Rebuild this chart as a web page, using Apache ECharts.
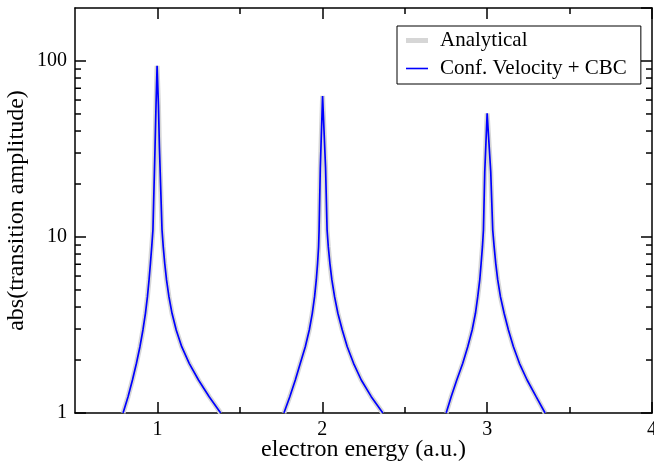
<!DOCTYPE html>
<html>
<head>
<meta charset="utf-8">
<script src="https://cdn.jsdelivr.net/npm/echarts@6/dist/echarts.min.js"></script>
<style>
html,body{margin:0;padding:0;background:#fff;}
#chart{width:654px;height:461px;}
</style>
</head>
<body>
<div id="chart"></div>
<script>
// ---- data ----
const energy = [
  0.7915, 0.8218, 0.8485, 0.8727, 0.8939, 0.9121, 0.9273, 0.9394, 0.9491, 0.9576, 0.9655, 0.9727, 0.9855, 0.9915, 0.998,
  1.0061, 1.0121, 1.0279, 1.0352, 1.0442, 1.0552, 1.0697, 1.0885, 1.1139, 1.1473, 1.1927, 1.2491, 1.3139, 1.3836,
  1.55,
  1.7673, 1.8030, 1.8364, 1.8667, 1.8970, 1.9212, 1.9394, 1.9533, 1.9636, 1.9715, 1.9776, 1.9806, 1.9879, 2.0018,
  2.0200, 2.0291, 2.0364, 2.0461, 2.0582, 2.0745, 2.0945, 2.1212, 2.1515, 2.1897, 2.2364, 2.2970, 2.3673,
  2.55,
  2.7515, 2.7818, 2.8158, 2.8521, 2.8824, 2.9091, 2.9291, 2.9430, 2.9552, 2.9636, 2.9715, 2.9776, 2.9855, 3.0,
  3.0218, 3.0339, 3.0424, 3.0521, 3.0642, 3.0806, 3.1030, 3.1291, 3.1594, 3.1958, 3.2424, 3.2970, 3.3515
];
const amplitudeAnalytical = [
  1, 1.238, 1.54, 1.916, 2.38, 2.962, 3.686, 4.58, 5.70, 7.09, 8.81, 10.96, 32.3, 56.2, 94,
  56.2, 32.3, 10.96, 8.81, 7.09, 5.70, 4.58, 3.686, 2.962, 2.38, 1.916, 1.54, 1.238, 1,
  null,
  1, 1.238, 1.54, 1.916, 2.38, 2.962, 3.686, 4.58, 5.70, 7.09, 8.81, 10.96, 24.6, 63.3,
  24.6, 10.96, 8.81, 7.09, 5.70, 4.58, 3.686, 2.962, 2.38, 1.916, 1.54, 1.238, 1,
  null,
  1, 1.238, 1.54, 1.916, 2.38, 2.962, 3.686, 4.58, 5.70, 7.09, 8.81, 10.96, 23.5, 50.4,
  23.5, 10.96, 8.81, 7.09, 5.70, 4.58, 3.686, 2.962, 2.38, 1.916, 1.54, 1.238, 1
];
const amplitudeCBC = [
  1, 1.238, 1.54, 1.916, 2.38, 2.962, 3.686, 4.58, 5.70, 7.09, 8.81, 10.96, 32.3, 56.2, 94,
  56.2, 32.3, 10.96, 8.81, 7.09, 5.70, 4.58, 3.686, 2.962, 2.38, 1.916, 1.54, 1.238, 1,
  null,
  1, 1.238, 1.54, 1.916, 2.38, 2.962, 3.686, 4.58, 5.70, 7.09, 8.81, 10.96, 24.6, 63.3,
  24.6, 10.96, 8.81, 7.09, 5.70, 4.58, 3.686, 2.962, 2.38, 1.916, 1.54, 1.238, 1,
  null,
  1, 1.238, 1.54, 1.916, 2.38, 2.962, 3.686, 4.58, 5.70, 7.09, 8.81, 10.96, 23.5, 50.4,
  23.5, 10.96, 8.81, 7.09, 5.70, 4.58, 3.686, 2.962, 2.38, 1.916, 1.54, 1.238, 1
];
const seriesNames = ['Analytical', 'Conf. Velocity + CBC'];
const xMajorTicks = [1, 2, 3, 4];
const xMinorTicks = [1.5, 2.5, 3.5];
const yMinorTicks = [2, 3, 4, 5, 6, 7, 8, 9, 20, 30, 40, 50, 60, 70, 80, 90];
const X_MIN = 0.5, X_MAX = 4, Y_MIN = 1, Y_MAX = 200;

const FONT = 'Liberation Serif';
const GRAY = '#d6d6d6', BLUE = '#0000ff';
const toPairs = (ys) => energy.map((e, i) => [e, ys[i] == null ? '-' : ys[i]]);

const frameLine = { show: true, lineStyle: { color: '#000', width: 1.5 } };
function xAx(position, ticks, len, showLine, labels) {
  return {
    type: 'value', position, min: X_MIN, max: X_MAX,
    axisLine: showLine ? frameLine : { show: false },
    axisTick: { show: true, inside: true, length: len, customValues: ticks, lineStyle: { color: '#000', width: 1.5 } },
    axisLabel: labels ? { show: true, customValues: ticks, fontFamily: FONT, fontSize: 20, color: '#000', margin: 7 } : { show: false },
    splitLine: { show: false }
  };
}
const isDecade = (v) => Math.abs(Math.log10(v) - Math.round(Math.log10(v))) < 1e-6;

const chart = echarts.init(document.getElementById('chart'), null, { renderer: 'canvas' });
chart.setOption({
  animation: false,
  backgroundColor: '#fff',
  grid: { left: 75, right: 2, top: 8, bottom: 48, containLabel: false, outerBoundsMode: 'none' },
  xAxis: [
    Object.assign(xAx('bottom', xMajorTicks, 11, true, true), {
      name: 'electron energy (a.u.)', nameLocation: 'middle', nameGap: 25, nameMoveOverlap: false,
      nameTextStyle: { fontFamily: FONT, fontSize: 24, color: '#000' }
    }),
    xAx('bottom', xMinorTicks, 6, false, false),
    xAx('top', xMajorTicks, 11, true, false),
    xAx('top', xMinorTicks, 6, false, false)
  ],
  yAxis: [
    {
      type: 'log', logBase: 10, min: Y_MIN, max: Y_MAX, position: 'left',
      axisLine: frameLine,
      axisTick: { show: true, inside: true, length: 11, lineStyle: { color: '#000', width: 1.5 } },
      axisLabel: { fontFamily: FONT, fontSize: 20, color: '#000', margin: 8, showMaxLabel: false,
        formatter: (v) => isDecade(v) ? String(Math.round(v)) : '' },
      splitLine: { show: false },
      name: 'abs(transition amplitude)', nameLocation: 'middle', nameGap: 46, nameMoveOverlap: false,
      nameTextStyle: { fontFamily: FONT, fontSize: 24, color: '#000' }
    },
    {
      type: 'log', logBase: 10, min: Y_MIN, max: Y_MAX, position: 'right',
      axisLine: frameLine,
      axisTick: { show: true, inside: true, length: 11, lineStyle: { color: '#000', width: 1.5 } },
      axisLabel: { show: false },
      splitLine: { show: false }
    }
  ],
  legend: {
    orient: 'vertical', left: 397, top: 26,
    padding: [4, 14, 5, 9], itemGap: 7, itemWidth: 29, itemHeight: 14,
    borderColor: '#000', borderWidth: 1, backgroundColor: '#fff',
    itemStyle: { borderWidth: 0 },
    textStyle: { fontFamily: FONT, fontSize: 21, color: '#000' },
    data: [
      { name: seriesNames[0], icon: 'path://M0,0M29,14M0,4.5L22,4.5L22,9.5L0,9.5Z', itemStyle: { color: GRAY, borderWidth: 0 } },
      { name: seriesNames[1], icon: 'path://M0,0M29,14M0,6.2L22,6.2L22,7.8L0,7.8Z', itemStyle: { color: BLUE, borderWidth: 0 } }
    ]
  },
  series: [
    {
      name: seriesNames[0], type: 'line', data: toPairs(amplitudeAnalytical),
      xAxisIndex: 0, yAxisIndex: 0, showSymbol: false, symbol: 'none', connectNulls: false,
      lineStyle: { color: GRAY, width: 5 }, itemStyle: { color: GRAY }, z: 2
    },
    {
      name: seriesNames[1], type: 'line', data: toPairs(amplitudeCBC),
      xAxisIndex: 0, yAxisIndex: 0, showSymbol: false, symbol: 'none', connectNulls: false,
      lineStyle: { color: BLUE, width: 1.7 }, itemStyle: { color: BLUE }, z: 3
    },
    {
      name: 'yMinor', type: 'custom', xAxisIndex: 0, yAxisIndex: 0, silent: true, z: 5,
      data: yMinorTicks.map((v) => [X_MIN, v]),
      renderItem: (params, api) => {
        const v = api.value(1);
        const pL = api.coord([X_MIN, v]);
        const pR = api.coord([X_MAX, v]);
        const st = { stroke: '#000', lineWidth: 1.5 };
        return {
          type: 'group', children: [
            { type: 'line', shape: { x1: pL[0], y1: pL[1], x2: pL[0] + 6, y2: pL[1] }, style: st },
            { type: 'line', shape: { x1: pR[0], y1: pR[1], x2: pR[0] - 6, y2: pR[1] }, style: st }
          ]
        };
      }
    }
  ]
});
</script>
</body>
</html>
